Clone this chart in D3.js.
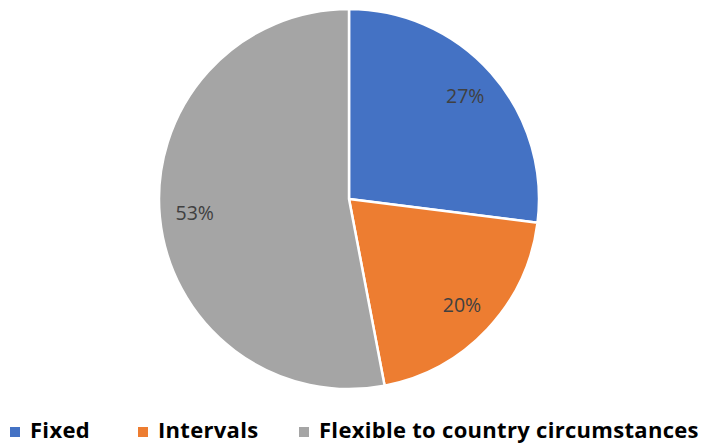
<!DOCTYPE html>
<html lang="en"><head><meta charset="UTF-8">
<title>Pie</title>
<script src="https://d3js.org/d3.v7.min.js"></script>
<style>
  body { margin: 0; background: #fff; }
</style>
</head>
<body>
<script>
var w = 710, h = 445;

var categories = ["Fixed", "Intervals", "Flexible to country circumstances"];
var values = [27, 20, 53];
var colors = ["#4472C4", "#ED7D31", "#A5A5A5"];

var cx = 349, cy = 199, radius = 190;

var svg = d3.select("body").append("svg")
  .attr("width", w).attr("height", h);

var g = svg.append("g").attr("transform", "translate(" + cx + "," + cy + ")");

var pie = d3.pie().sort(null).value(function(d) { return d; });
var arc = d3.arc().innerRadius(0).outerRadius(radius);
var labelArc = d3.arc().innerRadius(155).outerRadius(155);

var arcs = pie(values);

g.selectAll("path")
  .data(arcs)
  .enter().append("path")
  .attr("d", arc)
  .attr("fill", function(d, i) { return colors[i]; })
  .attr("stroke", "#fff")
  .attr("stroke-width", 2.5)
  .attr("stroke-linejoin", "round");

g.selectAll("text.lbl")
  .data(arcs)
  .enter().append("text")
  .attr("class", "lbl")
  .attr("transform", function(d) { return "translate(" + labelArc.centroid(d) + ")"; })
  .attr("text-anchor", "middle")
  .attr("dy", "0.35em")
  .attr("font-family", "'Open Sans', sans-serif")
  .attr("font-size", "19.5px")
  .attr("fill", "#404040")
  .text(function(d) { return d.data + "%"; });

// legend
var legX = [10, 138, 299];
var legend = svg.append("g");
legend.selectAll("rect")
  .data(categories)
  .enter().append("rect")
  .attr("x", function(d, i) { return legX[i]; })
  .attr("y", 427)
  .attr("width", 10).attr("height", 10)
  .attr("fill", function(d, i) { return colors[i]; });

legend.selectAll("text")
  .data(categories)
  .enter().append("text")
  .attr("x", function(d, i) { return legX[i] + 20; })
  .attr("y", 438)
  .attr("font-family", "'Open Sans', sans-serif")
  .attr("font-weight", "bold")
  .attr("font-size", "22px")
  .attr("letter-spacing", "0.3px")
  .attr("fill", "#000")
  .text(function(d) { return d; });
</script>
</body>
</html>
